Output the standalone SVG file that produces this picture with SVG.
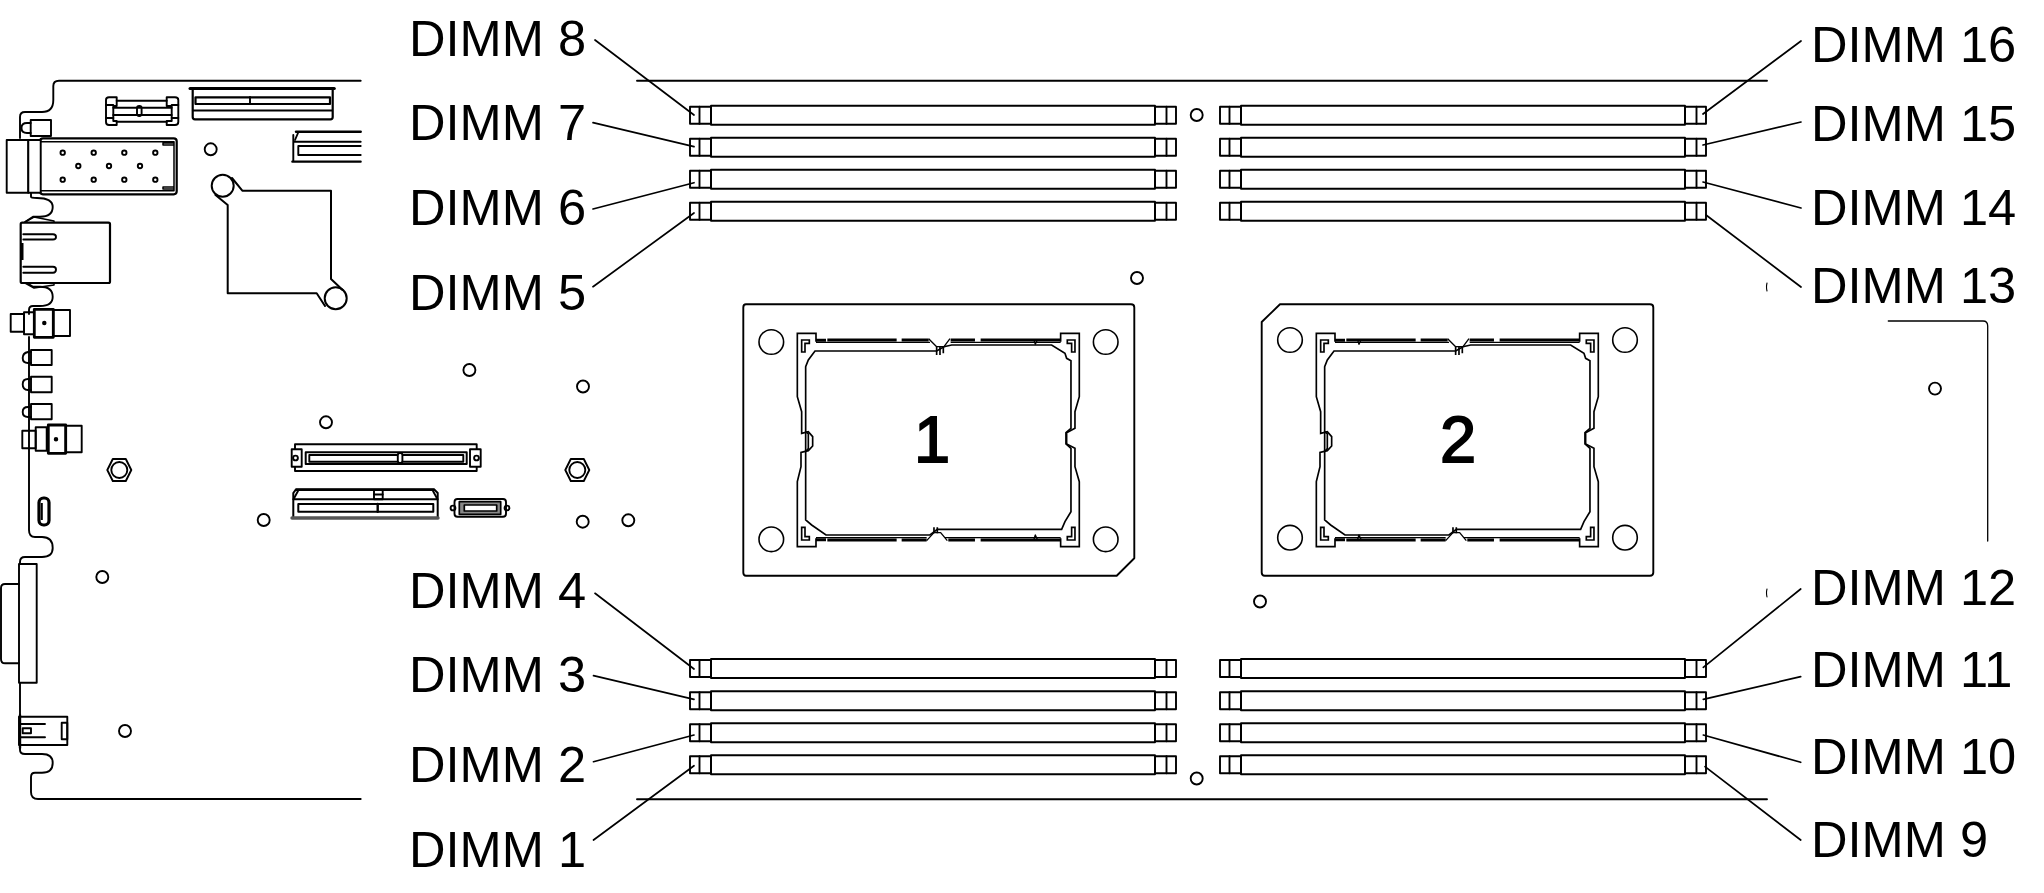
<svg xmlns="http://www.w3.org/2000/svg" width="2044" height="893" viewBox="0 0 2044 893">
<style>
.l{fill:none;stroke:#000;stroke-width:1.9;stroke-linejoin:round;stroke-linecap:round}
.t{fill:none;stroke:#000;stroke-width:1.5;stroke-linejoin:round}
.k{fill:none;stroke:#000;stroke-width:3;stroke-linejoin:round}
.w{fill:#fff;stroke:#000;stroke-width:1.9;stroke-linejoin:round}
.z{fill:none;stroke:#000;stroke-width:5;stroke-linejoin:miter}
.y{fill:none;stroke:#000;stroke-width:4;stroke-linejoin:round}
.b{fill:none;stroke:#000;stroke-width:9}
.lead{fill:none;stroke:#000;stroke-width:1.7;stroke-linecap:round}
text{font-family:"Liberation Sans",Arial,sans-serif;fill:#000}
.lb{font-size:50.6px}
.num{font-size:65px;stroke:#000;stroke-width:1.8}
</style>
<defs>
<g id="slot" class="l">
<rect x="0" y="1" width="21" height="17"/><path d="M9.5 1V18"/>
<rect x="21" y="0" width="444" height="19"/>
<rect x="465" y="1" width="21" height="17"/><path d="M476.5 1V18"/>
</g>
<g id="sock">
<path class="z" d="M228 155V130H172V320L185 365V430L205 425L218 440V468L205 482L183 487V530L172 575V770H228V745"/>
<path class="z" d="M962 155V130H1018V320L1005 365V415L980 428V462L1005 475V530L1018 575V770H962V745"/>
<path class="b" d="M228 151H258M262 150H470M485 150H566M632 150H705M722 150H962"/>
<path class="y" d="M566 146L590 170H612L630 146"/>
<path class="y" d="M228 157H570M632 157H962"/>
<path class="b" d="M228 749H258M262 750H470M485 750H560M625 750H705M722 750H962"/>
<path class="y" d="M560 752L582 728H602L622 752"/>
<path class="y" d="M228 743H560M615 743H962"/>
<path class="z" d="M185 150H208V160H195V186H185ZM1005 150H982V160H995V186H1005ZM185 750H208V740H195V712H185ZM1005 750H982V740H995V712H1005Z"/>
<path class="z" d="M225 183H590L612 170L635 165H935L975 190L980 205L993 212V415L978 428V462L993 475V665L975 695L965 718H592L570 735H258L215 705L197 690V485V425V230L205 210Z"/>
<path class="z" d="M197 425L205 432V476L197 485"/>
<path class="z" d="M590 170V195M600 170V195M610 170V190M582 712V730M592 712V730" />
</g>
</defs>

<g id="board-outline">
<path class="l" d="M360.7 80.7H59Q53.3 80.7 53.3 86V100Q53.3 112 42 112H25Q20 112 20 117V138"/>
<path class="l" d="M31 193V197Q31 198 37 198Q52.7 198 52.7 207Q52.7 216.7 40 216.7H33L25 222"/>
<path class="l" d="M27 283L33 286.7H40Q52.7 286.7 52.7 296.7Q52.7 306 40 306H33Q29 306 29 310V314"/>
<path class="l" d="M29 337V530Q29 537 35 537H42Q52.7 537 52.7 548Q52.7 557 42 557H25Q20 557 20 562V564"/>
<path class="l" d="M20 683V716"/>
<path class="l" d="M20 748V750Q20 754 25 754H42Q52.7 754 52.7 763Q52.7 772.7 42 772.7H35Q31 772.7 31 777V792Q31 799 38 799H360.7"/>
</g>
<g id="led-1" class="l"><rect x="30.7" y="120" width="20.3" height="16"/><path d="M30.7 123H27Q21.5 123 21.5 128Q21.5 133 27 133H30.7" /></g>
<g id="sfp">
<rect class="k" x="40" y="138.3" width="136.7" height="56" rx="3" style="stroke-width:2.2"/>
<path class="t" d="M40 141.7H174V190.7H40M163 143H174V145H163ZM163 189H174V187H163Z"/>
<rect class="w" x="6.7" y="140" width="21.6" height="52.7"/>
<rect class="w" x="28.3" y="140" width="12.4" height="52.7"/>
<g class="t" style="stroke-width:1.9"><circle cx="62.7" cy="152.7" r="2.2"/><circle cx="93.7" cy="152.7" r="2.2"/><circle cx="124.3" cy="152.7" r="2.2"/><circle cx="155.3" cy="152.7" r="2.2"/><circle cx="78.3" cy="166" r="2.2"/><circle cx="109" cy="166" r="2.2"/><circle cx="140" cy="166" r="2.2"/><circle cx="62.7" cy="179.7" r="2.2"/><circle cx="93.7" cy="179.7" r="2.2"/><circle cx="124.3" cy="179.7" r="2.2"/><circle cx="155.3" cy="179.7" r="2.2"/></g>
</g>
<g id="rj45">
<rect class="l" x="20.7" y="222.7" width="89.3" height="60.3" rx="1.5" style="stroke-width:2.2"/>
<path class="l" d="M23.3 234.3H53Q56 234.3 56 237Q56 239.5 53 239.5H23.3M23.3 266.7H53Q56 266.7 56 269.5Q56 272.7 53 272.7H23.3"/>
<path class="k" d="M22 243V260"/>
<path class="t" d="M25 222L34 217L54 221V222M25 283L34 288L54 285V283"/>
</g>
<g id="jack-1" class="l">
<rect x="10.7" y="314" width="13.3" height="17.7"/><rect x="24" y="312.3" width="10" height="22"/>
<rect x="34.3" y="309.3" width="19" height="28" style="stroke-width:2.8"/><rect x="53.3" y="310" width="16.7" height="26"/>
<circle cx="44.3" cy="323" r="1.3" fill="#000"/>
</g>
<g id="led-2" class="l"><rect x="31" y="350" width="20.7" height="15"/><path d="M31 352H28Q22.7 353 22.7 358Q22.7 363 28 363H31"/></g>
<g id="led-3" class="l"><rect x="31" y="376.7" width="20.7" height="15.6"/><path d="M31 379H28Q22.7 379 22.7 384.3Q22.7 390 28 390H31"/></g>
<g id="led-4" class="l"><rect x="31" y="404" width="20.7" height="15.3"/><path d="M31 407H28Q22.7 407 22.7 412Q22.7 417 28 417H31"/></g>
<g id="jack-2" class="l">
<rect x="22.3" y="430.7" width="13.4" height="17.6"/><rect x="35.7" y="427.3" width="11" height="23.4"/>
<rect x="48.3" y="425" width="17.4" height="28.3" style="stroke-width:2.8"/><rect x="65.7" y="425.7" width="16" height="26.6"/>
<circle cx="56" cy="439.3" r="1.3" fill="#000"/>
</g>
<g id="micro-usb"><rect class="k" x="39" y="498" width="10" height="27" rx="4.5" style="stroke-width:3.2"/><path class="t" d="M41.8 503V520" style="stroke-width:2"/></g>
<g id="vga" class="l"><path d="M19 584H5Q1 584 1 588V659Q1 663.3 5 663.3H19"/><rect x="19" y="564" width="17.7" height="118.7"/></g>
<g id="usb" class="l">
<rect x="19" y="716.7" width="48.3" height="28.3"/>
<path class="k" d="M20 715V748" style="stroke-width:2.4"/>
<path d="M20 724H45M20 737.3H45"/><rect x="22.7" y="728.3" width="8.3" height="5" />
<rect x="61.7" y="722.7" width="5.6" height="16.6"/>
</g>
<g id="conn-a" class="l">
<path d="M116.7 100.7H166.7M116.7 121.7H166.7M113.3 107.7H171.7M113.3 115H171.7"/>
<path d="M106 100V122Q106 125 109 125H116.7V121H113.3V106H116.7V97.3H109Q106 97.3 106 100ZM178.3 100V122Q178.3 125 175 125H166.7V121H171.7V106H166.7V97.3H175Q178.3 97.3 178.3 100Z" style="stroke-width:1.9"/>
<path d="M106 105H113.3M106 118H113.3M178.3 105H171.7M178.3 118H171.7"/>
<rect x="137" y="106" width="4.6" height="10" rx="2.2"/>
</g>
<g id="conn-b" class="l">
<path class="k" d="M190 88.5H334.3"/>
<path d="M192.7 89V117Q192.7 119.3 195 119.3H330.5Q332.7 119.3 332.7 117V89" style="stroke-width:2.2"/>
<path class="k" d="M193 110.5H332" style="stroke-width:2.2"/>
<rect x="195.5" y="97.3" width="134.5" height="6.7" style="stroke-width:2.2"/>
<path d="M250 97V104"/>
</g>
<g id="conn-c" class="l">
<path class="k" d="M296 131.7H360.7" style="stroke-width:2.4"/>
<path d="M293.3 135V161M293.3 141.7H360.7" />
<path d="M298.3 155V146H360.7M298.3 155H360.7"/>
<path class="k" d="M292.3 161.7H360.7" style="stroke-width:2.2"/>
<path d="M295 140L298 133" />
</g>
<g id="heatsink" class="l" style="stroke-width:2">
<circle cx="222.7" cy="185.7" r="11"/><circle cx="335.7" cy="298.3" r="11"/>
<path d="M232 178L242.3 190.7H331V279L342.7 290M325 306L316.7 293.3H227.7V205L215.5 195"/>
</g>
<g id="conn-d" class="l">
<rect x="295" y="444.3" width="181.7" height="26.7"/>
<rect x="305.7" y="452.3" width="161" height="11.7" style="stroke-width:2"/>
<rect x="309.3" y="455" width="154" height="6.7"/>
<rect x="397.8" y="453" width="4.6" height="10" rx="2.2" fill="#fff"/>
<rect x="291.7" y="449.3" width="10" height="17.4" fill="#fff" style="stroke-width:1.9"/><circle cx="295.5" cy="458" r="2.4"/>
<rect x="470" y="449.3" width="10.7" height="17.4" fill="#fff" style="stroke-width:1.9"/><circle cx="476.5" cy="458" r="2.4"/>
</g>
<g id="conn-e" class="l">
<path d="M293.3 517V493L296 489.3H434L437.7 493V517" style="stroke-width:2"/>
<path class="k" d="M296 489.8H434" style="stroke-width:2.2"/>
<path d="M293.5 499.3L298 491M437.5 499.3L433 491M293.3 499.3H437.7"/>
<rect x="298.3" y="504" width="135" height="7.7" style="stroke-width:2"/><path d="M377.7 504V511.7" style="stroke-width:2.4"/>
<rect x="374" y="490" width="8.7" height="9.3"/><path d="M374 494.5H382.7"/>
<path d="M292 518H438" style="stroke-width:3.4;stroke:#555"/>
</g>
<g id="conn-f" class="l">
<circle cx="453" cy="508" r="2.4"/><circle cx="507" cy="508" r="2.4"/>
<rect x="454.5" y="499" width="51.5" height="17.7" rx="3" style="stroke-width:1.9"/>
<rect x="459.3" y="501.7" width="41.4" height="12.6" fill="#888" style="stroke-width:1.7"/>
<rect x="464.3" y="505" width="32.4" height="6" fill="#fff" style="stroke-width:1.7"/>
</g>
<g id="holes" class="l">
<circle cx="1196.7" cy="115" r="6"/><circle cx="1196.7" cy="778.5" r="6"/>
<circle cx="1137" cy="278" r="6"/><circle cx="1260" cy="601.5" r="6"/><circle cx="1935" cy="388.6" r="6"/>
<circle cx="210.7" cy="149.3" r="6"/><circle cx="326" cy="422.3" r="6"/><circle cx="263.7" cy="520" r="6"/>
<circle cx="102.3" cy="577" r="6"/><circle cx="125" cy="731" r="6"/>
<circle cx="469.4" cy="370" r="6"/><circle cx="583" cy="386.5" r="6"/><circle cx="582.7" cy="521.7" r="6"/><circle cx="628.3" cy="520.3" r="6"/>
</g>
<g id="nut-1" class="l" transform="translate(119.3 470)"><path d="M-12 0L-6.5 -11H6.5L12 0L6.5 11H-6.5Z"/><circle r="8"/></g>
<g id="nut-2" class="l" transform="translate(577.3 470)"><path d="M-12 0L-6.5 -11H6.5L12 0L6.5 11H-6.5Z"/><circle r="8"/></g>

<g id="rails" class="l">
<path d="M637 80.7H1767M637 799.3H1767"/>
<path d="M1888.3 321H1983Q1987.7 321 1987.7 326V541" style="stroke-width:1.3"/>
<path d="M1767 283Q1766 287 1767 291M1767 589Q1766 592.7 1767 597" style="stroke-width:1.1"/>
</g>

<g id="cpu-1">
<path class="l" d="M746 304.3H1131Q1134.3 304.3 1134.3 307.5V558.3L1116.7 575.7H746Q743.3 575.7 743.3 572.5V307.5Q743.3 304.3 746 304.3Z"/>
<g class="l" style="stroke-width:1.6"><circle cx="771.3" cy="342" r="12.3"/><circle cx="1105.7" cy="342" r="12.3"/><circle cx="771.3" cy="539.3" r="12.3"/><circle cx="1105.7" cy="539.3" r="12.3"/></g>
<g transform="translate(740 290) scale(.3333)"><use href="#sock"/><path class="y" d="M882 150L886 163L892 150M882 748L886 735L892 748"/></g>
<text class="num" x="914" y="461.7">1</text>
</g>
<g id="cpu-2">
<path class="l" d="M1280 304.3H1650Q1653.3 304.3 1653.3 307.5V572.5Q1653.3 575.7 1650 575.7H1264.7Q1261.7 575.7 1261.7 572.5V322L1280 304.3Z"/>
<g class="l" style="stroke-width:1.6"><circle cx="1290" cy="340" r="12.3"/><circle cx="1625" cy="340" r="12.3"/><circle cx="1290" cy="537.7" r="12.3"/><circle cx="1625" cy="537.7" r="12.3"/></g>
<g transform="translate(1259 290) scale(.3333)"><use href="#sock"/><path class="y" d="M296 150L300 163L306 150M296 748L300 735L306 748"/></g>
<text class="num" x="1440" y="461.7">2</text>
</g>

<g id="dimm-8"><use href="#slot" x="690" y="105.7"/><text class="lb" x="409" y="55.7">DIMM 8</text></g>
<g id="dimm-7"><use href="#slot" x="690" y="137.7"/><text class="lb" x="409" y="140">DIMM 7</text></g>
<g id="dimm-6"><use href="#slot" x="690" y="169.7"/><text class="lb" x="409" y="225">DIMM 6</text></g>
<g id="dimm-5"><use href="#slot" x="690" y="201.7"/><text class="lb" x="409" y="310">DIMM 5</text></g>
<g id="dimm-4"><use href="#slot" x="690" y="659"/><text class="lb" x="409" y="608.3">DIMM 4</text></g>
<g id="dimm-3"><use href="#slot" x="690" y="691.3"/><text class="lb" x="409" y="691.7">DIMM 3</text></g>
<g id="dimm-2"><use href="#slot" x="690" y="723.3"/><text class="lb" x="409" y="781.7">DIMM 2</text></g>
<g id="dimm-1"><use href="#slot" x="690" y="755.3"/><text class="lb" x="409" y="866.7">DIMM 1</text></g>
<g id="dimm-16"><use href="#slot" x="1220" y="105.7"/><text class="lb" x="1811" y="61.7">DIMM 16</text></g>
<g id="dimm-15"><use href="#slot" x="1220" y="137.7"/><text class="lb" x="1811" y="140.7">DIMM 15</text></g>
<g id="dimm-14"><use href="#slot" x="1220" y="169.7"/><text class="lb" x="1811" y="225">DIMM 14</text></g>
<g id="dimm-13"><use href="#slot" x="1220" y="201.7"/><text class="lb" x="1811" y="303.3">DIMM 13</text></g>
<g id="dimm-12"><use href="#slot" x="1220" y="659"/><text class="lb" x="1811" y="605">DIMM 12</text></g>
<g id="dimm-11"><use href="#slot" x="1220" y="691.3"/><text class="lb" x="1811" y="687.3">DIMM 11</text></g>
<g id="dimm-10"><use href="#slot" x="1220" y="723.3"/><text class="lb" x="1811" y="774">DIMM 10</text></g>
<g id="dimm-9"><use href="#slot" x="1220" y="755.3"/><text class="lb" x="1811" y="857.3">DIMM 9</text></g>

<g id="connectors" class="lead">
<path d="M595 40L694 115"/><path d="M593 122.7L694 146.7"/><path d="M593 209L694 182.7"/><path d="M593 286.7L694 213"/>
<path d="M595 593.3L694 669"/><path d="M593.5 675.7L694 699.3"/><path d="M593.5 761.7L694 735"/><path d="M593.5 840L694 765.7"/>
<path d="M1801 41L1703 114"/><path d="M1801 122L1703 145"/><path d="M1801 208L1703 182"/><path d="M1801 287L1706 215"/>
<path d="M1800.7 589L1703.3 667.3"/><path d="M1800.7 676.7L1703.3 699.3"/><path d="M1800.7 762.3L1703.3 735"/><path d="M1800.7 840L1705 766.7"/>
</g>
</svg>
